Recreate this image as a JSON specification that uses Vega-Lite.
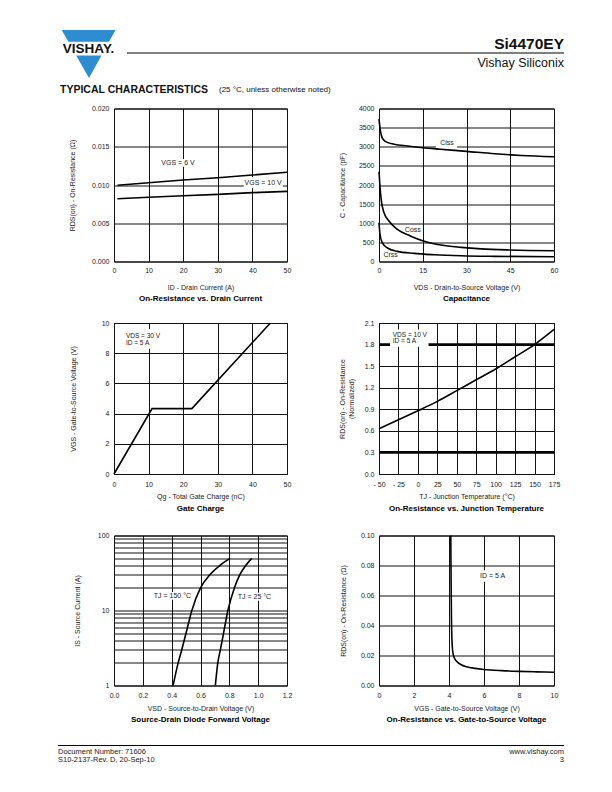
{
  "$schema": "https://vega.github.io/schema/vega-lite/v6.json",
  "autosize": {"type": "pad"},
  "padding": {"left": 57, "top": 30, "right": 0, "bottom": 0},
  "background": "white",
  "config": {
    "font": "Liberation Sans",
    "view": {"stroke": "black", "strokeWidth": 1},
    "axis": {"grid": true, "gridColor": "#111", "gridWidth": 1, "gridOpacity": 1, "domain": false, "ticks": false, "tickCount": 100,
      "labelFont": "Liberation Sans", "labelFontSize": 7, "labelColor": "#222", "labelPadding": 5,
      "titleFont": "Liberation Sans", "titleFontSize": 7, "titleFontWeight": "normal", "titleColor": "#222",
      "labelOverlap": false, "labelFlush": false, "titleLineHeight": 9},
    "title": {"font": "Liberation Sans", "fontSize": 8, "fontWeight": "bold", "color": "black", "anchor": "middle"},
    "text": {"font": "Liberation Sans"}
  },
  "bounds": "flush",
  "columns": 2,
  "spacing": {"row": 61.5, "column": 92},
  "concat": [
    {
      "width": 173, "height": 16.5,
      "view": {"stroke": null},
      "layer": [
        {"data": {"values": [{"x": 60.7, "y": 30, "y2": 30}, {"x": 88, "y": 30, "y2": 78}, {"x": 114.5, "y": 30, "y2": 30}]},
         "mark": {"type": "area", "color": "#2d8dd0", "interpolate": "linear", "opacity": 1},
         "encoding": {"x": {"field": "x", "type": "quantitative", "scale": {"domain": [113, 286], "nice": false, "zero": false}, "axis": null},
                      "y": {"field": "y", "type": "quantitative", "scale": {"domain": [30, 46.5], "nice": false, "zero": false, "reverse": true}, "axis": null},
                      "y2": {"field": "y2"}}},
        {"data": {"values": [{"x": 59, "x2": 117, "y": 41.7, "y2": 55.5}]},
         "mark": {"type": "rect", "color": "white"},
         "encoding": {"x": {"field": "x", "type": "quantitative"}, "x2": {"field": "x2"}, "y": {"field": "y", "type": "quantitative"}, "y2": {"field": "y2"}}},
        {"data": {"values": [{"t": "VISHAY.", "x": 87.5, "y": 49}]},
         "mark": {"type": "text", "fontSize": 13.5, "fontWeight": "bold", "align": "center", "baseline": "middle", "color": "#111"},
         "encoding": {"x": {"field": "x", "type": "quantitative"}, "y": {"field": "y", "type": "quantitative"}, "text": {"field": "t"}}},
        {"data": {"values": [{"t": "TYPICAL CHARACTERISTICS", "x": 59, "y": 89.5}]},
         "mark": {"type": "text", "fontSize": 10.5, "fontWeight": "bold", "align": "left", "baseline": "middle", "color": "#111"},
         "encoding": {"x": {"field": "x", "type": "quantitative"}, "y": {"field": "y", "type": "quantitative"}, "text": {"field": "t"}}},
        {"data": {"values": [{"t": "(25 °C, unless otherwise noted)", "x": 218, "y": 89.5}]},
         "mark": {"type": "text", "fontSize": 8, "align": "left", "baseline": "middle", "color": "#111"},
         "encoding": {"x": {"field": "x", "type": "quantitative"}, "y": {"field": "y", "type": "quantitative"}, "text": {"field": "t"}}}
      ]
    },
    {
      "width": 175, "height": 16.5,
      "view": {"stroke": null},
      "layer": [
        {"data": {"values": [{"x": 126, "x2": 563, "y": 53}]},
         "mark": {"type": "rule", "color": "black", "strokeWidth": 1},
         "encoding": {"x": {"field": "x", "type": "quantitative", "scale": {"domain": [378, 553], "nice": false, "zero": false}, "axis": null},
                      "x2": {"field": "x2"},
                      "y": {"field": "y", "type": "quantitative", "scale": {"domain": [30, 46.5], "nice": false, "zero": false, "reverse": true}, "axis": null}}},
        {"data": {"values": [{"t": "Si4470EY", "x": 563, "y": 44}]},
         "mark": {"type": "text", "fontSize": 15.5, "fontWeight": "bold", "align": "right", "baseline": "middle", "color": "#111"},
         "encoding": {"x": {"field": "x", "type": "quantitative"}, "y": {"field": "y", "type": "quantitative"}, "text": {"field": "t"}}},
        {"data": {"values": [{"t": "Vishay Siliconix", "x": 563, "y": 62.5}]},
         "mark": {"type": "text", "fontSize": 12.5, "align": "right", "baseline": "middle", "color": "#111"},
         "encoding": {"x": {"field": "x", "type": "quantitative"}, "y": {"field": "y", "type": "quantitative"}, "text": {"field": "t"}}}
      ]
    },
    {
      "width": 173, "height": 153,
      "title": {"text": "On-Resistance vs. Drain Current", "orient": "bottom", "offset": 4},
      "layer": [
        {"mark": {"type": "rule", "color": "black", "strokeWidth": 2.8}, "encoding": {"x": {"datum": 30, "type": "quantitative"}}},
        {"data": {"values": [{"x1": 37.5, "x2": 48.8, "y1": 0.00957, "y2": 0.01105}, {"x1": 13.8, "x2": 23.3, "y1": 0.0124, "y2": 0.0134}]},
         "mark": {"type": "rect", "color": "white"},
         "encoding": {"x": {"field": "x1", "type": "quantitative"}, "x2": {"field": "x2"}, "y": {"field": "y1", "type": "quantitative"}, "y2": {"field": "y2"}}},
        {"data": {"values": [
          {"s": "6V", "id": 1, "r": 0.00996}, {"s": "6V", "id": 10, "r": 0.0103}, {"s": "6V", "id": 20, "r": 0.01065}, {"s": "6V", "id": 30, "r": 0.01095}, {"s": "6V", "id": 40, "r": 0.0113}, {"s": "6V", "id": 50, "r": 0.01167},
          {"s": "10V", "id": 1, "r": 0.0082}, {"s": "10V", "id": 10, "r": 0.0084}, {"s": "10V", "id": 20, "r": 0.0086}, {"s": "10V", "id": 30, "r": 0.00878}, {"s": "10V", "id": 40, "r": 0.009}, {"s": "10V", "id": 50, "r": 0.00917}]},
         "mark": {"type": "line", "color": "black", "strokeWidth": 1.6},
         "encoding": {
           "x": {"field": "id", "type": "quantitative", "scale": {"domain": [0, 50], "nice": false}, "axis": {"values": [0, 10, 20, 30, 40, 50], "format": "d", "title": "ID - Drain Current (A)", "labelPadding": 5, "titlePadding": 10}},
           "y": {"field": "r", "type": "quantitative", "scale": {"domain": [0, 0.02], "nice": false}, "axis": {"values": [0, 0.005, 0.01, 0.015, 0.02], "format": ".3f", "title": "RDS(on) - On-Resistance (Ω)", "titlePadding": 16}},
           "detail": {"field": "s"}}},
        {"data": {"values": [{"t": "VGS = 6 V", "x": 18.5, "y": 0.01286}, {"t": "VGS = 10 V", "x": 43.1, "y": 0.0103}]},
         "mark": {"type": "text", "fontSize": 7, "align": "center", "baseline": "middle", "color": "#222"},
         "encoding": {"x": {"field": "x", "type": "quantitative"}, "y": {"field": "y", "type": "quantitative"}, "text": {"field": "t"}}}
      ]
    },
    {
      "width": 175, "height": 153,
      "title": {"text": "Capacitance", "orient": "bottom", "offset": 4},
      "layer": [
        {"data": {"values": [{"x1": 19.5, "x2": 26.8, "y1": 2870, "y2": 3300}]},
         "mark": {"type": "rect", "color": "white"},
         "encoding": {"x": {"field": "x1", "type": "quantitative"}, "x2": {"field": "x2"}, "y": {"field": "y1", "type": "quantitative"}, "y2": {"field": "y2"}}},
        {"data": {"values": [
          {"s": "Ciss", "v": 0, "c": 3720}, {"s": "Ciss", "v": 0.35, "c": 3490}, {"s": "Ciss", "v": 0.8, "c": 3300}, {"s": "Ciss", "v": 1.15, "c": 3224}, {"s": "Ciss", "v": 2.3, "c": 3135}, {"s": "Ciss", "v": 5.2, "c": 3065}, {"s": "Ciss", "v": 9.8, "c": 3020}, {"s": "Ciss", "v": 15, "c": 2975}, {"s": "Ciss", "v": 21, "c": 2935}, {"s": "Ciss", "v": 30, "c": 2880}, {"s": "Ciss", "v": 39.7, "c": 2817}, {"s": "Ciss", "v": 48.9, "c": 2773}, {"s": "Ciss", "v": 60, "c": 2740},
          {"s": "Coss", "v": 0, "c": 2350}, {"s": "Coss", "v": 0.35, "c": 1943}, {"s": "Coss", "v": 0.8, "c": 1590}, {"s": "Coss", "v": 1.7, "c": 1280}, {"s": "Coss", "v": 3.4, "c": 1060}, {"s": "Coss", "v": 6.3, "c": 840}, {"s": "Coss", "v": 10.9, "c": 662}, {"s": "Coss", "v": 15.5, "c": 530}, {"s": "Coss", "v": 21.3, "c": 430}, {"s": "Coss", "v": 28.2, "c": 370}, {"s": "Coss", "v": 35, "c": 330}, {"s": "Coss", "v": 45, "c": 300}, {"s": "Coss", "v": 60, "c": 280},
          {"s": "Crss", "v": 0, "c": 1015}, {"s": "Crss", "v": 0.35, "c": 706}, {"s": "Crss", "v": 1.15, "c": 485}, {"s": "Crss", "v": 2.9, "c": 353}, {"s": "Crss", "v": 6.3, "c": 265}, {"s": "Crss", "v": 12, "c": 212}, {"s": "Crss", "v": 19, "c": 177}, {"s": "Crss", "v": 28.2, "c": 150}, {"s": "Crss", "v": 39.7, "c": 135}, {"s": "Crss", "v": 60, "c": 125}]},
         "mark": {"type": "line", "color": "black", "strokeWidth": 1.6, "interpolate": "monotone"},
         "encoding": {
           "x": {"field": "v", "type": "quantitative", "scale": {"domain": [0, 60], "nice": false}, "axis": {"values": [0, 15, 30, 45, 60], "format": "d", "title": "VDS - Drain-to-Source Voltage (V)", "labelPadding": 5, "titlePadding": 10}},
           "y": {"field": "c", "type": "quantitative", "scale": {"domain": [0, 4000], "nice": false}, "axis": {"values": [0, 500, 1000, 1500, 2000, 2500, 3000, 3500, 4000], "format": "d", "title": "C - Capacitance (pF)", "titlePadding": 13}},
           "detail": {"field": "s"}}},
        {"data": {"values": [{"t": "Ciss", "x": 23.3, "y": 3108}, {"t": "Coss", "x": 11.6, "y": 812}, {"t": "Crss", "x": 4.0, "y": 159}]},
         "mark": {"type": "text", "fontSize": 7, "align": "center", "baseline": "middle", "color": "#222"},
         "encoding": {"x": {"field": "x", "type": "quantitative"}, "y": {"field": "y", "type": "quantitative"}, "text": {"field": "t"}}}
      ]
    },
    {
      "width": 173, "height": 151,
      "title": {"text": "Gate Charge", "orient": "bottom", "offset": 5.5},
      "layer": [
        {"mark": {"type": "rule", "color": "black", "strokeWidth": 2.8}, "encoding": {"x": {"datum": 30, "type": "quantitative"}}},
        {"mark": {"type": "rule", "color": "black", "strokeWidth": 2.8}, "encoding": {"y": {"datum": 2, "type": "quantitative"}}},
        {"data": {"values": [{"x1": 2.8, "x2": 13.9, "y1": 8.3, "y2": 9.6}]},
         "mark": {"type": "rect", "color": "white"},
         "encoding": {"x": {"field": "x1", "type": "quantitative"}, "x2": {"field": "x2"}, "y": {"field": "y1", "type": "quantitative"}, "y2": {"field": "y2"}}},
        {"data": {"values": [{"q": 0, "v": 0}, {"q": 11, "v": 4.33}, {"q": 22.5, "v": 4.33}, {"q": 45.2, "v": 10}]},
         "mark": {"type": "line", "color": "black", "strokeWidth": 1.6},
         "encoding": {
           "x": {"field": "q", "type": "quantitative", "scale": {"domain": [0, 50], "nice": false}, "axis": {"values": [0, 10, 20, 30, 40, 50], "format": "d", "title": "Qg - Total Gate Charge (nC)", "labelPadding": 6, "titlePadding": 5}},
           "y": {"field": "v", "type": "quantitative", "scale": {"domain": [0, 10], "nice": false}, "axis": {"values": [0, 2, 4, 6, 8, 10], "format": "d", "title": "VGS - Gate-to-Source Voltage (V)", "titlePadding": 25}}}},
        {"data": {"values": [{"t": "VDS = 30 V", "x": 3.45, "y": 9.15}, {"t": "ID = 5 A", "x": 3.45, "y": 8.68}]},
         "mark": {"type": "text", "fontSize": 6.5, "align": "left", "baseline": "middle", "color": "#222"},
         "encoding": {"x": {"field": "x", "type": "quantitative"}, "y": {"field": "y", "type": "quantitative"}, "text": {"field": "t"}}}
      ]
    },
    {
      "width": 175, "height": 151,
      "title": {"text": "On-Resistance vs. Junction Temperature", "orient": "bottom", "offset": 5.5},
      "layer": [
        {"mark": {"type": "rule", "color": "black", "strokeWidth": 2.8}, "encoding": {"x": {"datum": 100, "type": "quantitative"}}},
        {"data": {"values": [{"yv": 0.3}, {"yv": 1.8}]},
         "mark": {"type": "rule", "color": "black", "strokeWidth": 2.8}, "encoding": {"y": {"field": "yv", "type": "quantitative"}}},
        {"data": {"values": [{"x1": -35.8, "x2": 13.7, "y1": 1.77, "y2": 2.01}]},
         "mark": {"type": "rect", "color": "white"},
         "encoding": {"x": {"field": "x1", "type": "quantitative"}, "x2": {"field": "x2"}, "y": {"field": "y1", "type": "quantitative"}, "y2": {"field": "y2"}}},
        {"data": {"values": [{"t": -50, "r": 0.63}, {"t": -25, "r": 0.755}, {"t": 0, "r": 0.88}, {"t": 25, "r": 1.01}, {"t": 50, "r": 1.16}, {"t": 75, "r": 1.31}, {"t": 100, "r": 1.46}, {"t": 125, "r": 1.63}, {"t": 150, "r": 1.8}, {"t": 175, "r": 2.01}]},
         "mark": {"type": "line", "color": "black", "strokeWidth": 1.6, "interpolate": "monotone"},
         "encoding": {
           "x": {"field": "t", "type": "quantitative", "scale": {"domain": [-50, 175], "nice": false, "zero": false}, "axis": {"values": [-50, -25, 0, 25, 50, 75, 100, 125, 150, 175], "format": "d", "labelExpr": "datum.value < 0 ? '- ' + abs(datum.value) : datum.label", "title": "TJ - Junction Temperature (°C)", "labelPadding": 6, "titlePadding": 5}},
           "y": {"field": "r", "type": "quantitative", "scale": {"domain": [0, 2.1], "nice": false}, "axis": {"values": [0, 0.3, 0.6, 0.9, 1.2, 1.5, 1.8, 2.1], "format": ".1f", "title": ["RDS(on) - On-Resistance", "(Normalized)"], "titlePadding": 10}}}},
        {"data": {"values": [{"t": "VDS = 10 V", "x": -32.3, "y": 1.94}, {"t": "ID = 5 A", "x": -32.3, "y": 1.845}]},
         "mark": {"type": "text", "fontSize": 6.5, "align": "left", "baseline": "middle", "color": "#222"},
         "encoding": {"x": {"field": "x", "type": "quantitative"}, "y": {"field": "y", "type": "quantitative"}, "text": {"field": "t"}}}
      ]
    },
    {
      "width": 173, "height": 150,
      "title": {"text": "Source-Drain Diode Forward Voltage", "orient": "bottom", "offset": 4.5},
      "layer": [
        {"data": {"values": [{"x1": 0.27, "x2": 0.49, "y1": 13.9, "y2": 17.7}, {"x1": 0.85, "x2": 1.05, "y1": 13.5, "y2": 17.3}]},
         "mark": {"type": "rect", "color": "white"},
         "encoding": {"x": {"field": "x1", "type": "quantitative"}, "x2": {"field": "x2"}, "y": {"field": "y1", "type": "quantitative"}, "y2": {"field": "y2"}}},
        {"data": {"values": [
          {"s": "150", "v": 0.41, "i": 1}, {"s": "150", "v": 0.445, "i": 2}, {"s": "150", "v": 0.47, "i": 3}, {"s": "150", "v": 0.5, "i": 5}, {"s": "150", "v": 0.54, "i": 10}, {"s": "150", "v": 0.6, "i": 20}, {"s": "150", "v": 0.665, "i": 30}, {"s": "150", "v": 0.735, "i": 40}, {"s": "150", "v": 0.805, "i": 49.5},
          {"s": "25", "v": 0.703, "i": 1}, {"s": "25", "v": 0.72, "i": 2}, {"s": "25", "v": 0.738, "i": 3}, {"s": "25", "v": 0.76, "i": 5}, {"s": "25", "v": 0.79, "i": 10}, {"s": "25", "v": 0.835, "i": 20}, {"s": "25", "v": 0.873, "i": 30}, {"s": "25", "v": 0.915, "i": 40}, {"s": "25", "v": 0.955, "i": 49.5}]},
         "mark": {"type": "line", "color": "black", "strokeWidth": 1.6, "interpolate": "monotone"},
         "encoding": {
           "x": {"field": "v", "type": "quantitative", "scale": {"domain": [0, 1.2], "nice": false}, "axis": {"values": [0, 0.2, 0.4, 0.6, 0.8, 1.0, 1.2], "format": ".1f", "title": "VSD - Source-to-Drain Voltage (V)", "labelPadding": 5.5, "titlePadding": 6}},
           "y": {"field": "i", "type": "quantitative", "scale": {"type": "log", "domain": [1, 100], "nice": false}, "axis": {"values": [1, 2, 3, 4, 5, 6, 7, 8, 9, 10, 20, 30, 40, 50, 60, 70, 80, 90, 100], "labelExpr": "datum.value == 1 || datum.value == 10 || datum.value == 100 ? format(datum.value, 'd') : ''", "title": "IS - Source Current (A)", "titlePadding": 17}},
           "detail": {"field": "s"}}},
        {"data": {"values": [{"t": "TJ = 150 °C", "x": 0.276, "y": 15.7}, {"t": "TJ = 25 °C", "x": 0.859, "y": 15.2}]},
         "mark": {"type": "text", "fontSize": 7, "align": "left", "baseline": "middle", "color": "#222"},
         "encoding": {"x": {"field": "x", "type": "quantitative"}, "y": {"field": "y", "type": "quantitative"}, "text": {"field": "t"}}}
      ]
    },
    {
      "width": 175, "height": 150,
      "title": {"text": "On-Resistance vs. Gate-to-Source Voltage", "orient": "bottom", "offset": 4.5},
      "layer": [
        {"mark": {"type": "rule", "color": "black", "strokeWidth": 2.8}, "encoding": {"x": {"datum": 4, "type": "quantitative"}}},
        {"mark": {"type": "rule", "color": "black", "strokeWidth": 2.8}, "encoding": {"y": {"datum": 0.02, "type": "quantitative"}}},
        {"data": {"values": [{"x1": 5.6, "x2": 7.1, "y1": 0.0692, "y2": 0.0768}]},
         "mark": {"type": "rect", "color": "white"},
         "encoding": {"x": {"field": "x1", "type": "quantitative"}, "x2": {"field": "x2"}, "y": {"field": "y1", "type": "quantitative"}, "y2": {"field": "y2"}}},
        {"data": {"values": [{"v": 4.1, "r": 0.1}, {"v": 4.12, "r": 0.07}, {"v": 4.14, "r": 0.045}, {"v": 4.17, "r": 0.03}, {"v": 4.22, "r": 0.022}, {"v": 4.3, "r": 0.0185}, {"v": 4.45, "r": 0.016}, {"v": 4.7, "r": 0.0138}, {"v": 5.0, "r": 0.0125}, {"v": 5.5, "r": 0.0114}, {"v": 6.0, "r": 0.0107}, {"v": 7.0, "r": 0.0099}, {"v": 8.0, "r": 0.0094}, {"v": 9.0, "r": 0.0091}, {"v": 10.0, "r": 0.0088}]},
         "mark": {"type": "line", "color": "black", "strokeWidth": 1.6, "interpolate": "monotone"},
         "encoding": {
           "x": {"field": "v", "type": "quantitative", "scale": {"domain": [0, 10], "nice": false}, "axis": {"values": [0, 2, 4, 6, 8, 10], "format": "d", "title": "VGS - Gate-to-Source Voltage (V)", "labelPadding": 5.5, "titlePadding": 6}},
           "y": {"field": "r", "type": "quantitative", "scale": {"domain": [0, 0.1], "nice": false}, "axis": {"values": [0, 0.02, 0.04, 0.06, 0.08, 0.1], "format": ".2f", "title": "RDS(on) - On-Resistance (Ω)", "titlePadding": 14}}}},
        {"data": {"values": [{"t": "ID = 5 A", "x": 5.77, "y": 0.073}]},
         "mark": {"type": "text", "fontSize": 7, "align": "left", "baseline": "middle", "color": "#222"},
         "encoding": {"x": {"field": "x", "type": "quantitative"}, "y": {"field": "y", "type": "quantitative"}, "text": {"field": "t"}}}
      ]
    },
    {
      "width": 173, "height": 25,
      "view": {"stroke": null},
      "layer": [
        {"data": {"values": [{"x": 57, "x2": 563, "y": 745}]},
         "mark": {"type": "rule", "color": "black", "strokeWidth": 1},
         "encoding": {"x": {"field": "x", "type": "quantitative", "scale": {"domain": [113, 286], "nice": false, "zero": false}, "axis": null},
                      "x2": {"field": "x2"},
                      "y": {"field": "y", "type": "quantitative", "scale": {"domain": [746.5, 771.5], "nice": false, "zero": false, "reverse": true}, "axis": null}}},
        {"data": {"values": [{"t": "Document Number: 71606", "x": 57, "y": 751}, {"t": "S10-2137-Rev. D, 20-Sep-10", "x": 57, "y": 759}]},
         "mark": {"type": "text", "fontSize": 7.5, "align": "left", "baseline": "middle", "color": "#222"},
         "encoding": {"x": {"field": "x", "type": "quantitative"}, "y": {"field": "y", "type": "quantitative"}, "text": {"field": "t"}}}
      ]
    },
    {
      "width": 175, "height": 25,
      "view": {"stroke": null},
      "layer": [
        {"data": {"values": [{"t": "www.vishay.com", "x": 563, "y": 751}, {"t": "3", "x": 563, "y": 759}]},
         "mark": {"type": "text", "fontSize": 7.5, "align": "right", "baseline": "middle", "color": "#222"},
         "encoding": {"x": {"field": "x", "type": "quantitative", "scale": {"domain": [378, 553], "nice": false, "zero": false}, "axis": null},
                      "y": {"field": "y", "type": "quantitative", "scale": {"domain": [746.5, 771.5], "nice": false, "zero": false, "reverse": true}, "axis": null},
                      "text": {"field": "t"}}}
      ]
    }
  ]
}
